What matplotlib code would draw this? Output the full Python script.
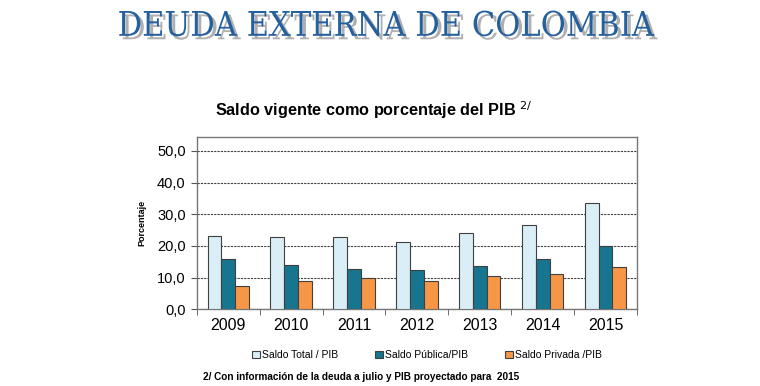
import numpy as np
import matplotlib
matplotlib.use("Agg")
import matplotlib.pyplot as plt
import matplotlib.patheffects as pe

years = ["2009", "2010", "2011", "2012", "2013", "2014", "2015"]
saldo_total = [23.0, 22.7, 22.7, 21.2, 24.2, 26.7, 33.5]
saldo_publica = [15.9, 13.9, 12.8, 12.5, 13.6, 16.0, 20.0]
saldo_privada = [7.2, 9.0, 9.9, 9.0, 10.5, 11.0, 13.4]
series_names = ["Saldo Total / PIB", "Saldo Pública/PIB", "Saldo Privada /PIB"]
yticks = [0, 10, 20, 30, 40, 50]

plt.rcParams["font.family"] = ["Liberation Sans", "DejaVu Sans"]

fig = plt.figure(figsize=(7.6, 3.86), dpi=100)
ax = fig.add_axes([0.259, 0.199, 0.579, 0.447])

x = np.arange(len(years))
w = 0.22
colors = ["#d9eef6", "#17758f", "#f79646"]
for i, (vals, c, name) in enumerate(zip([saldo_total, saldo_publica, saldo_privada], colors, series_names)):
    ax.bar(x + (i - 1) * w, vals, w, color=c, edgecolor="#404040", linewidth=0.8, label=name, zorder=3)

ax.set_xlim(-0.5, len(years) - 0.5)
ax.set_ylim(0, 54.5)
ax.set_yticks(yticks)
ax.set_yticklabels([f"{v:.1f}".replace(".", ",") for v in yticks], fontsize=10.5)
ax.yaxis.grid(True, linestyle=(0, (2, 1)), color="#404040", linewidth=0.8, zorder=0)
ax.set_xticks(x)
ax.set_xticklabels(years, fontsize=11.5)
ax.set_xticks(np.arange(len(years) + 1) - 0.5, minor=True)
ax.tick_params(axis="x", which="major", length=0, pad=6)
ax.tick_params(axis="x", which="minor", length=4, color="#555555")
ax.tick_params(axis="y", length=4, color="#555555", pad=4)
for s in ax.spines.values():
    s.set_color("#777777")
    s.set_linewidth(1.0)
ax.set_ylabel("Porcentaje", fontsize=6.5, fontweight="bold", labelpad=8)

ax.legend(loc="upper center", bbox_to_anchor=(0.523, -0.185), ncol=3, frameon=False,
          fontsize=7.5, handlelength=0.7, handleheight=0.7, handletextpad=0.2, columnspacing=3.6)

# header with drop shadow
fig.text(0.508, 0.972, "DEUDA EXTERNA DE COLOMBIA", color="#245f9e", ha="center", va="top",
         fontsize=24.5, family="DejaVu Serif", fontstretch="condensed",
         path_effects=[pe.SimplePatchShadow(offset=(2.5, -2.5), shadow_rgbFace="#b0b0b0", alpha=1.0),
                       pe.Normal()])

fig.text(0.492, 0.715, "Saldo vigente como porcentaje del PIB $^{2/}$", ha="center", va="center",
         fontsize=11.7, fontweight="bold")
fig.text(0.267, 0.01, "2/ Con información de la deuda a julio y PIB proyectado para  2015",
         fontsize=7.2, fontweight="bold", va="bottom")

fig.savefig("out.png")
